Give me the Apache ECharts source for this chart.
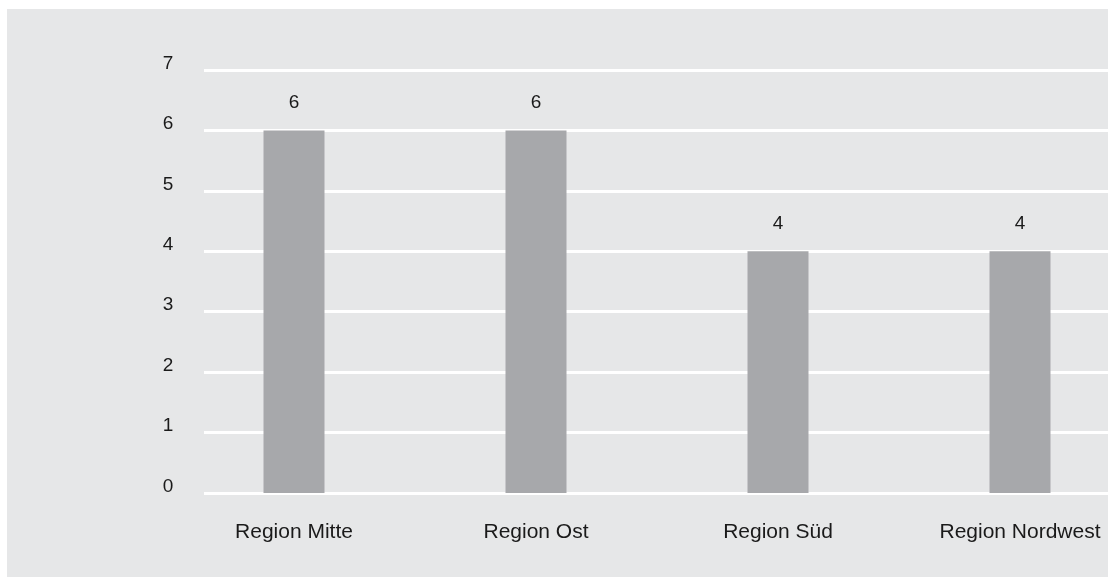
<!DOCTYPE html>
<html>
<head>
<meta charset="utf-8">
<script src="https://cdn.jsdelivr.net/npm/echarts@6/dist/echarts.min.js"></script>
<style>
html,body{margin:0;padding:0;background:#ffffff;}
#panel{position:absolute;left:7px;top:9px;width:1101px;height:568px;background:#e6e7e8;}
#chart{position:absolute;left:0;top:0;width:1108px;height:577px;}
</style>
</head>
<body>
<div id="panel"></div>
<div id="chart"></div>
<script>
const categories = ['Region Mitte', 'Region Ost', 'Region Süd', 'Region Nordwest'];
const values = [6, 6, 4, 4];
const yTicks = [0, 1, 2, 3, 4, 5, 6, 7];

const chart = echarts.init(document.getElementById('chart'), null, {renderer: 'canvas'});
const fontFam = '"Liberation Sans", Arial, sans-serif';
chart.setOption({
  backgroundColor: 'transparent',
  animation: false,
  grid: [
    {left: 173, width: 968, top: 70, bottom: 84, containLabel: false, outerBoundsMode: 'none'},
    {left: 204, right: 0, top: 70, bottom: 84, containLabel: false, outerBoundsMode: 'none'}
  ],
  xAxis: [
    {
      type: 'category', gridIndex: 0, data: categories,
      axisLine: {show: false}, axisTick: {show: false}, splitLine: {show: false},
      axisLabel: {color: '#1a1a1a', fontSize: 21, fontFamily: fontFam, margin: 29}
    },
    {type: 'value', gridIndex: 1, show: false, min: 0, max: 1}
  ],
  yAxis: [
    {type: 'value', gridIndex: 0, min: yTicks[0], max: yTicks[yTicks.length - 1], interval: 1, show: false},
    {
      type: 'value', gridIndex: 1, min: yTicks[0], max: yTicks[yTicks.length - 1], interval: 1,
      axisLine: {show: false}, axisTick: {show: false},
      splitLine: {show: true, lineStyle: {color: '#ffffff', width: 3}},
      axisLabel: {color: '#1a1a1a', fontSize: 19, fontFamily: fontFam, margin: 36, align: 'center', verticalAlign: 'bottom', lineHeight: 13}
    }
  ],
  series: [
    {
      type: 'bar', xAxisIndex: 0, yAxisIndex: 0, data: values, barWidth: 61,
      itemStyle: {color: '#a7a8ab'},
      label: {show: true, position: 'top', distance: 18, color: '#1a1a1a', fontSize: 19, fontFamily: fontFam}
    }
  ]
});
</script>
</body>
</html>
